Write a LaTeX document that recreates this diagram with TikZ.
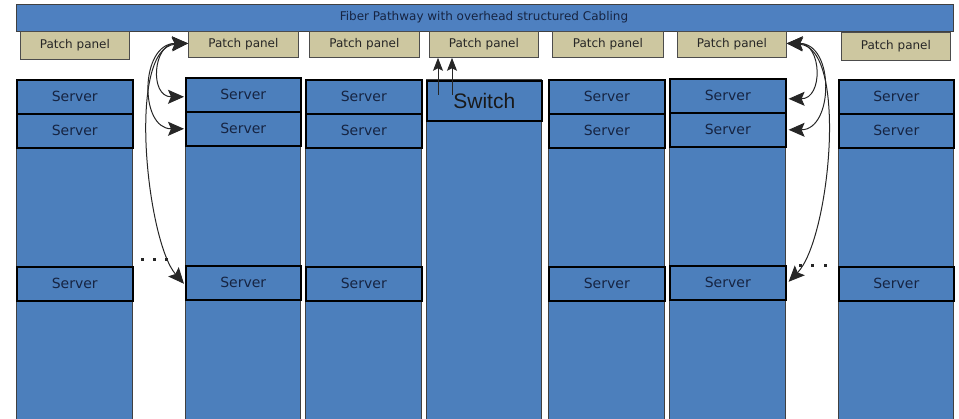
\documentclass[tikz,border=0pt]{standalone}
\usepackage{fontspec}
\setmainfont{DejaVu Sans}
\newfontfamily\swfont{Liberation Sans}
\usetikzlibrary{arrows.meta,calc}
\definecolor{rackblue}{RGB}{76,127,188}
\definecolor{barblue}{RGB}{78,128,192}
\definecolor{ppcol}{RGB}{205,199,160}
\definecolor{txtnavy}{RGB}{22,36,66}
\tikzset{
  rack/.style={draw=black!75, fill=rackblue, line width=0.8pt, anchor=north west, inner sep=0pt},
  srv/.style={draw=black, fill=rackblue, line width=1.6pt, anchor=north west, inner sep=0pt,
    minimum height=34pt, text=txtnavy, font=\fontsize{14}{14}\selectfont},
  pp/.style={draw=black!70, fill=ppcol, line width=0.8pt, anchor=north west, inner sep=0pt,
    minimum height=26pt, minimum width=110pt, text=black!85, font=\fontsize{12}{12}\selectfont},
  link/.style={line width=1pt, draw=black!85, >={Stealth[length=16pt,width=14pt,inset=3pt]}, <->},
  uplink/.style={line width=1pt, draw=black!85, >={Stealth[length=13pt,width=10pt,inset=2.5pt]}, ->},
  dotmark/.style={fill=black!85}
}
\begin{document}
\begin{tikzpicture}[x=1pt,y=-1pt]
\useasboundingbox (0,0) rectangle (959,419);
% top bar
\node[draw=black!75, fill=barblue, line width=0.8pt, anchor=north west, inner sep=0pt,
  minimum width=937pt, minimum height=27pt] (bar) at (16,4) {};
\node[text=txtnavy, font=\fontsize{12}{12}\selectfont] (bartxt) at (484,17) {Fiber Pathway with overhead structured Cabling};
% racks
\node[rack, minimum width=116pt, minimum height=345pt] (r1) at (16,79) {};
\node[rack, minimum width=115pt, minimum height=347pt] (r2) at (185,77) {};
\node[rack, minimum width=116pt, minimum height=345pt] (r3) at (305,79) {};
\node[rack, minimum width=115pt, minimum height=345pt] (r4) at (426,79) {};
\node[rack, minimum width=116pt, minimum height=345pt] (r5) at (548,79) {};
\node[rack, minimum width=116pt, minimum height=345pt] (r6) at (669,79) {};
\node[rack, minimum width=115pt, minimum height=345pt] (r7) at (838,79) {};
% patch panels
\node[pp, minimum width=109pt, minimum height=28pt] (pp1) at (20,31) {Patch panel};
\node[pp] (pp2) at (188,31) {Patch panel};
\node[pp] (pp3) at (309,31) {Patch panel};
\node[pp, minimum width=109pt] (pp4) at (429,31) {Patch panel};
\node[pp, minimum width=111pt] (pp5) at (552,31) {Patch panel};
\node[pp, minimum width=109pt] (pp6) at (677,31) {Patch panel};
\node[pp, minimum width=109pt, minimum height=28pt] (pp7) at (841,32) {Patch panel};
% servers
\node[srv, minimum width=116pt] (s11) at (16,79) {Server};
\node[srv, minimum width=116pt] (s12) at (16,113) {Server};
\node[srv, minimum width=116pt] (s13) at (16,266) {Server};
\node[srv, minimum width=115pt] (s21) at (185,77) {Server};
\node[srv, minimum width=115pt] (s22) at (185,111) {Server};
\node[srv, minimum width=115pt] (s23) at (185,265) {Server};
\node[srv, minimum width=116pt] (s31) at (305,79) {Server};
\node[srv, minimum width=116pt] (s32) at (305,113) {Server};
\node[srv, minimum width=116pt] (s33) at (305,266) {Server};
\node[srv, minimum width=115pt, minimum height=40pt, font=\swfont\fontsize{21}{21}\selectfont, text=black!90] (sw) at (426,80) {Switch};
\node[srv, minimum width=116pt] (s51) at (548,79) {Server};
\node[srv, minimum width=116pt] (s52) at (548,113) {Server};
\node[srv, minimum width=116pt] (s53) at (548,266) {Server};
\node[srv, minimum width=116pt] (s61) at (669,78) {Server};
\node[srv, minimum width=116pt] (s62) at (669,112) {Server};
\node[srv, minimum width=116pt] (s63) at (669,265) {Server};
\node[srv, minimum width=115pt] (s71) at (838,79) {Server};
\node[srv, minimum width=115pt] (s72) at (838,113) {Server};
\node[srv, minimum width=115pt] (s73) at (838,266) {Server};
% switch uplinks
\coordinate (u1) at (438,95);
\coordinate (u2) at (452,95);
\draw[uplink] (u1) -- (u1 |- pp4.south);
\draw[uplink] (u2) -- (u2 |- pp4.south);
% left cabling
\draw[link] ([yshift=1pt]pp2.west) .. controls +(-35,0) and +(-35,0) .. ([xshift=-1pt,yshift=-2pt]s21.west);
\draw[link] ([yshift=1pt]pp2.west) .. controls +(-48,0) and +(-45,0) .. ([xshift=-1pt]s22.west);
\draw[link] ([yshift=1pt]pp2.west) .. controls +(-62,4) and +(-37,-42) .. ([xshift=-1pt,yshift=-1pt]s23.west);
% right cabling
\draw[link] ([yshift=1pt]pp6.east) .. controls +(35,0) and +(35,0) .. ([xshift=2pt,yshift=-3pt]s61.east);
\draw[link] ([yshift=1pt]pp6.east) .. controls +(48,0) and +(45,0) .. ([xshift=2pt]s62.east);
\draw[link] ([yshift=1pt]pp6.east) .. controls +(62,4) and +(41,-42) .. ([xshift=2pt,yshift=1pt]s63.east);
% ellipses
\foreach \x in {142,154,166} \fill[dotmark] (\x-1.5,258.5) rectangle +(3,3);
\foreach \x in {800,812,825} \fill[dotmark] (\x-1.5,264.5) rectangle +(3,3);
\end{tikzpicture}
\end{document}
